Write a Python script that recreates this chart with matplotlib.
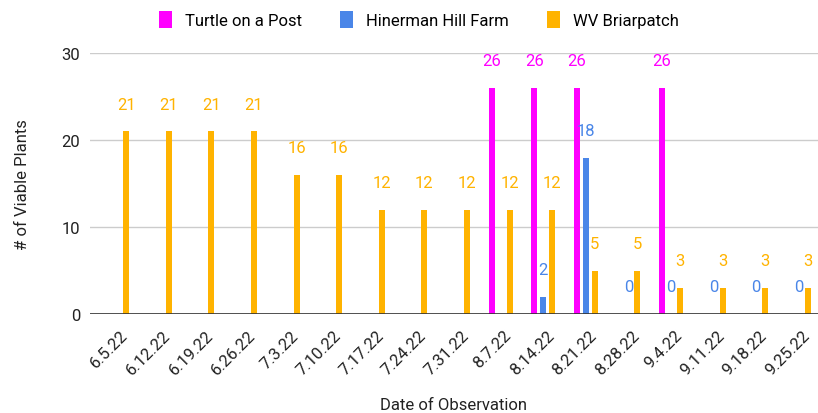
import numpy as np
import matplotlib.pyplot as plt
import matplotlib.transforms as mtransforms

plt.rcParams['font.family'] = ['Roboto', 'DejaVu Sans']

dates = ['6.5.22', '6.12.22', '6.19.22', '6.26.22', '7.3.22', '7.10.22', '7.17.22',
         '7.24.22', '7.31.22', '8.7.22', '8.14.22', '8.21.22', '8.28.22', '9.4.22',
         '9.11.22', '9.18.22', '9.25.22']
nan = np.nan
turtle = [nan, nan, nan, nan, nan, nan, nan, nan, nan, 26, 26, 26, nan, 26, nan, nan, nan]
hinerman = [nan, nan, nan, nan, nan, nan, nan, nan, nan, nan, 2, 18, 0, 0, 0, 0, 0]
briar = [21, 21, 21, 21, 16, 16, 12, 12, 12, 12, 12, 5, 5, 3, 3, 3, 3]

names = ['Turtle on a Post', 'Hinerman Hill Farm', 'WV Briarpatch']
colors = ['#FF00FF', '#4A86E8', '#FFB300']

fig = plt.figure(figsize=(8.18, 4.14), dpi=100)
ax = fig.add_axes([0.11, 0.239, 0.89, 0.630])

x = np.arange(len(dates))
step = 0.21
w = 0.14
for k, (vals, c, n) in enumerate(zip([turtle, hinerman, briar], colors, names)):
    pos = x + (k - 1) * step
    v = np.array(vals, dtype=float)
    ax.bar(pos, np.nan_to_num(v), width=w, color=c, label=n, zorder=3)
    for p, val in zip(pos, v):
        if np.isnan(val):
            continue
        ax.annotate(f'{val:g}', (p, val), xytext=(0, 19.5), textcoords='offset points',
                    ha='center', va='center', color=c, fontsize=12, zorder=5)

ax.set_xlim(-0.64, 16.45)
ax.set_ylim(0, 30)
ax.set_yticks([0, 10, 20, 30])
ax.grid(axis='y', color='#cccccc', linewidth=1, zorder=0)
ax.axhline(0, color='#333333', linewidth=1.2, zorder=4)
for s in ax.spines.values():
    s.set_visible(False)
ax.tick_params(length=0, labelsize=12, colors='#222222')
ax.tick_params(axis='y', pad=7)
ax.tick_params(axis='x', pad=6)
ax.set_xticks(x)
ax.set_xticklabels(dates, rotation=45, ha='right', rotation_mode='anchor')
shift = mtransforms.ScaledTranslation(3 / 100, -5 / 100, fig.dpi_scale_trans)
for lab in ax.get_xticklabels():
    lab.set_transform(lab.get_transform() + shift)
ax.set_xlabel('Date of Observation', fontsize=12, labelpad=14, color='#222222')
ax.set_ylabel('# of Viable Plants', fontsize=12, labelpad=23, color='#222222')

ax.legend(loc='center', bbox_to_anchor=(0.452, 1.13), ncol=3, frameon=False,
          fontsize=12, handlelength=0.75, handleheight=1.2, columnspacing=2.3,
          handletextpad=0.8)

fig.savefig('out.png', dpi=100)
